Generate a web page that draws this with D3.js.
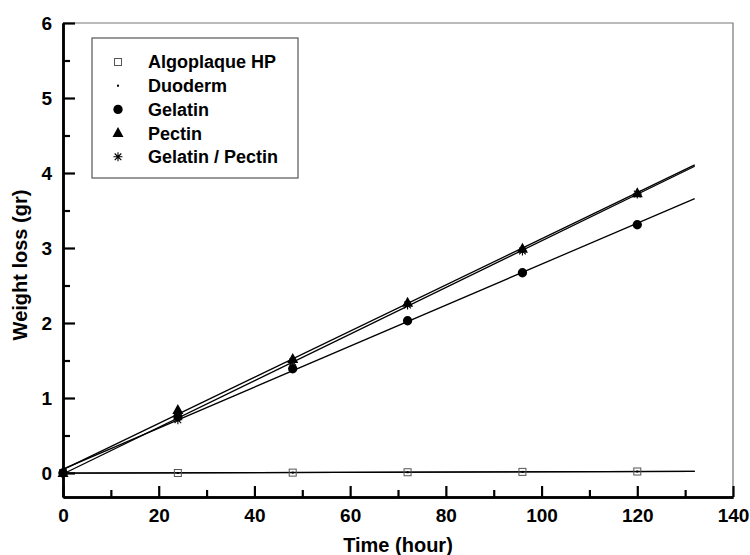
<!DOCTYPE html>
<html lang="en">
<head>
    <meta charset="utf-8">
    <title>Weight loss</title>
    <style type="text/css">
        body { margin: 0; background: #fff; }
        .chart text { font-family: "Liberation Sans", Arial, sans-serif; font-weight: bold; fill: #000; }
        .axis .domain { stroke: #000; stroke-width: 2.5; }
        .axis .tick line { stroke: #000; stroke-width: 2.2; }
        .axis .tick text { font-size: 19px; }
        .fit { fill: none; stroke: #000; stroke-width: 1.3; }
    </style>
</head>
<body>
   <svg class="chart" width="750" height="555"></svg>

   <script src="https://d3js.org/d3.v7.min.js"></script>
   <script>
        // data
        var hours = [0, 24, 48, 72, 96, 120];
        var algoplaque = [0, 0.0, 0.005, 0.01, 0.015, 0.02];
        var duoderm = [0, 0.0, 0.005, 0.01, 0.015, 0.02];
        var gelatin = [0, 0.75, 1.39, 2.03, 2.67, 3.31];
        var pectin = [0, 0.84, 1.52, 2.27, 2.99, 3.73];
        var gelPectin = [0, 0.71, 1.48, 2.24, 2.96, 3.72];

        var seriesNames = ['Algoplaque HP', 'Duoderm', 'Gelatin', 'Pectin', 'Gelatin / Pectin'];
        var seriesValues = [algoplaque, duoderm, gelatin, pectin, gelPectin];
        var seriesMarks = ['square', 'dot', 'circle', 'triangle', 'star'];

        var xTicks = [0, 20, 40, 60, 80, 100, 120, 140],
            xMinor = [10, 30, 50, 70, 90, 110, 130],
            yTicks = [0, 1, 2, 3, 4, 5, 6],
            yMinor = [0.5, 1.5, 2.5, 3.5, 4.5, 5.5];
        var fitEnd = 132;   // regression lines are drawn to this hour

        var svg = d3.select('.chart'),
            padding = {top: 23, right: 17, bottom: 58, left: 63},
            width = +svg.attr('width') - padding.left - padding.right,
            height = +svg.attr('height') - padding.top - padding.bottom;

        var x = d3.scaleLinear().domain([0, 140]).range([0, width]),
            y = d3.scaleLinear().domain([-0.32, 6]).range([height, 0]);

        var g = svg.append('g')
            .attr('transform', 'translate(' + padding.left + ',' + padding.top + ')');

        // top and right frame
        g.append('path')
            .attr('d', 'M0,0H' + width + 'V' + height)
            .attr('fill', 'none')
            .attr('stroke', '#777')
            .attr('stroke-width', 1.2);

        // minor ticks
        g.append('g')
            .attr('class', 'axis')
            .attr('transform', 'translate(0,' + height + ')')
            .call(d3.axisBottom(x).tickValues(xMinor).tickSize(-7).tickSizeOuter(0).tickFormat(''));
        g.append('g')
            .attr('class', 'axis')
            .call(d3.axisLeft(y).tickValues(yMinor).tickSize(-7).tickSizeOuter(0).tickFormat(''));

        // major axes
        g.append('g')
            .attr('class', 'axis axis-x')
            .attr('transform', 'translate(0,' + height + ')')
            .call(d3.axisBottom(x).tickValues(xTicks).tickSize(-11).tickSizeOuter(0).tickPadding(12));
        g.append('g')
            .attr('class', 'axis axis-y')
            .call(d3.axisLeft(y).tickValues(yTicks).tickSize(-12).tickSizeOuter(0).tickPadding(11)
                .tickFormat(d3.format('d')));

        // axis titles
        svg.append('text')
            .attr('x', padding.left + width / 2)
            .attr('y', 552)
            .attr('text-anchor', 'middle')
            .style('font-size', '20px')
            .text('Time (hour)');
        svg.append('text')
            .attr('transform', 'translate(27,' + (padding.top + height / 2 + 5) + ') rotate(-90)')
            .attr('text-anchor', 'middle')
            .style('font-size', '20px')
            .text('Weight loss (gr)');

        // least squares fit of each series
        function fit(vals) {
            var mx = d3.mean(hours), my = d3.mean(vals), sxy = 0, sxx = 0;
            hours.forEach(function(h, i) {
                sxy += (h - mx) * (vals[i] - my);
                sxx += (h - mx) * (h - mx);
            });
            var b = sxy / sxx;
            return [[0, my - b * mx], [fitEnd, my - b * mx + b * fitEnd]];
        }

        var line = d3.line()
            .x(function(d) { return x(d[0]); })
            .y(function(d) { return y(d[1]); });

        seriesValues.forEach(function(vals) {
            g.append('path')
                .datum(fit(vals))
                .attr('class', 'fit')
                .attr('d', line);
        });

        // marker drawing
        function mark(sel, type) {
            if (type === 'square') {
                sel.append('rect')
                    .attr('x', -3.5).attr('y', -3.5).attr('width', 7).attr('height', 7)
                    .attr('fill', 'none').attr('stroke', '#555').attr('stroke-width', 1);
            } else if (type === 'dot') {
                sel.append('rect')
                    .attr('x', -1).attr('y', -1).attr('width', 2).attr('height', 2)
                    .attr('fill', '#000');
            } else if (type === 'circle') {
                sel.append('path')
                    .attr('d', d3.symbol(d3.symbolCircle, 68)())
                    .attr('fill', '#000');
            } else if (type === 'triangle') {
                sel.append('path')
                    .attr('d', 'M0,-6L5.5,4L-5.5,4Z')
                    .attr('fill', '#000');
            } else if (type === 'star') {
                sel.append('path')
                    .attr('d', 'M-4.5,0H4.5M0,-4.5V4.5M-3.3,-3.3L3.3,3.3M-3.3,3.3L3.3,-3.3')
                    .attr('stroke', '#000').attr('stroke-width', 1.1);
            }
        }

        seriesValues.forEach(function(vals, s) {
            hours.forEach(function(h, i) {
                var p = g.append('g')
                    .attr('transform', 'translate(' + x(h) + ',' + y(vals[i]) + ')');
                mark(p, seriesMarks[s]);
            });
        });

        // legend
        var legend = svg.append('g').attr('transform', 'translate(92,38)');
        legend.append('rect')
            .attr('width', 206).attr('height', 140)
            .attr('fill', '#fff').attr('stroke', '#555').attr('stroke-width', 1.2);
        seriesNames.forEach(function(name, i) {
            var row = legend.append('g')
                .attr('transform', 'translate(0,' + (24 + i * 23.7) + ')');
            mark(row.append('g').attr('transform', 'translate(26,0)'), seriesMarks[i]);
            row.append('text')
                .attr('x', 56).attr('dy', '0.36em')
                .style('font-size', '18px')
                .text(name);
        });
   </script>
</body>
</html>
